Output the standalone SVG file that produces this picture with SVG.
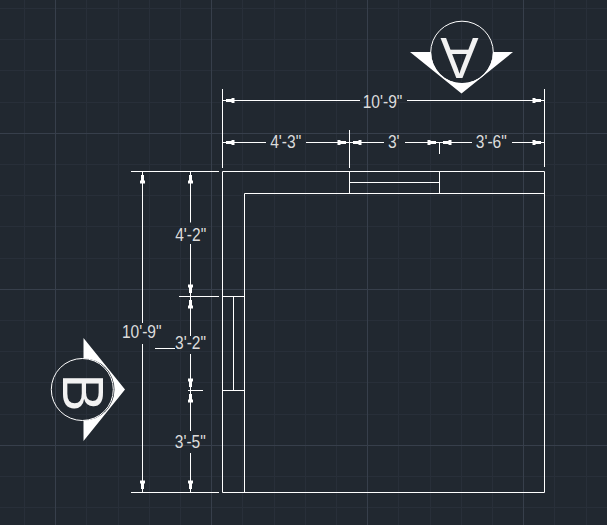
<svg xmlns="http://www.w3.org/2000/svg" width="607" height="525" viewBox="0 0 607 525">
<defs>
<style>
.minor{stroke:#282f39;stroke-width:1;fill:none}
.major{stroke:#373f4b;stroke-width:1;fill:none}
.ln{stroke:#fff;stroke-width:1;fill:none}
.ah{fill:#fff;stroke:none}
.t{font-family:"Liberation Sans",Arial,sans-serif;font-size:17.5px;fill:#dcdcdc;text-anchor:middle}
.big{font-family:"Liberation Sans",Arial,sans-serif;font-size:57px;fill:#f2f2f2;text-anchor:middle}
</style>
<path id="ar" class="ah" d="M0 0L3 -.5L3 -1.5L8.500 -1.5L8.500 -2.500L11.500 -2.500L11.500 2.500L8.500 2.500L8.500 1.500L3 1.500L3 .5Z"/>
</defs>
<rect width="607" height="525" fill="#212830"/>
<g id="grid">
<path class="minor" d="M24.5 0V525M86.5 0V525M118.5 0V525M149.5 0V525M180.5 0V525M242.5 0V525M274.5 0V525M305.5 0V525M336.5 0V525M398.5 0V525M430.5 0V525M461.5 0V525M492.5 0V525M554.5 0V525M586.5 0V525M0 8.5H607M0 39.5H607M0 70.5H607M0 102.5H607M0 164.5H607M0 195.5H607M0 226.5H607M0 258.5H607M0 320.5H607M0 351.5H607M0 382.5H607M0 414.5H607M0 476.5H607M0 507.5H607"/>
<path class="major" d="M55.5 0V525M211.5 0V525M367.5 0V525M523.5 0V525M0 133.5H607M0 289.5H607M0 445.5H607"/>
</g>
<g id="plan">
<path class="ln" d="M222.5 171.5H544.5V492.5H222.5ZM244.5 492.5V193.5H544.500M349.5 171.5V193.5M439.5 171.5V193.5M349.5 182.5H439.5M222.5 296.5H244.5M222.5 390.5H244.5M233.5 296.5V390.5"/>
</g>
<g id="connectors">
<path class="ln" d="M222.5 89V168M544.5 89V167M349.5 130V168M439.5 142V154M131 171.5H219M131 492.5H219M179 296.5H219M188 390.5H203"/>
<path class="ln" d="M223 100.5H360M407 100.5H544M223 142.5H266M306 142.5H384M405 142.5H472M512 142.5H544"/>
<path class="ln" d="M142.5 172V323M142.5 344V492M190.500 172V222.500M190.500 244V336M190.500 354V431M190.500 453V492M155 348.5H175"/>
<use href="#ar" transform="translate(223 100.5)"/>
<use href="#ar" transform="translate(544 100.5) rotate(180)"/>
<use href="#ar" transform="translate(223 142.5)"/>
<use href="#ar" transform="translate(349 142.5) rotate(180)"/>
<use href="#ar" transform="translate(350 142.5)"/>
<use href="#ar" transform="translate(439 142.5) rotate(180)"/>
<use href="#ar" transform="translate(440 142.5)"/>
<use href="#ar" transform="translate(544 142.5) rotate(180)"/>
<use href="#ar" transform="translate(142.5 172) rotate(90)"/>
<use href="#ar" transform="translate(142.5 492) rotate(-90)"/>
<use href="#ar" transform="translate(190.5 172) rotate(90)"/>
<use href="#ar" transform="translate(190.5 296) rotate(-90)"/>
<use href="#ar" transform="translate(190.5 297) rotate(90)"/>
<use href="#ar" transform="translate(190.5 390) rotate(-90)"/>
<use href="#ar" transform="translate(190.5 391) rotate(90)"/>
<use href="#ar" transform="translate(190.5 492) rotate(-90)"/>
</g>
<g id="labels">
<text class="t" transform="translate(382.5 107.500) scale(.89 1)">10'-9"</text>
<text class="t" transform="translate(285.7 148.300) scale(.89 1)">4'-3"</text>
<text class="t" transform="translate(393.7 148.300) scale(.89 1)">3'</text>
<text class="t" transform="translate(491.3 148.300) scale(.89 1)">3'-6"</text>
<text class="t" transform="translate(190.7 240.700) scale(.89 1)">4'-2"</text>
<text class="t" transform="translate(141.7 338.300) scale(.89 1)">10'-9"</text>
<text class="t" transform="translate(190.5 349) scale(.89 1)">3'-2"</text>
<text class="t" transform="translate(190.3 447.700) scale(.89 1)">3'-5"</text>
</g>
<g id="marker-a">
<path class="ah" d="M410 52H431A31 31 0 0 0 493 52H513L461.5 93.5Z"/>
<circle class="ln" cx="462" cy="52.500" r="31.300"/>
<text class="big" transform="translate(459.500 38) rotate(180)">A</text>
</g>
<g id="marker-b">
<path class="ah" d="M83.500 338L125 389.500L83.500 441V420.500A31 31 0 0 0 83.500 358.500Z"/>
<circle class="ln" cx="82.300" cy="389.500" r="31"/>
<text class="big" transform="translate(63 392.500) rotate(90)">B</text>
</g>
</svg>
